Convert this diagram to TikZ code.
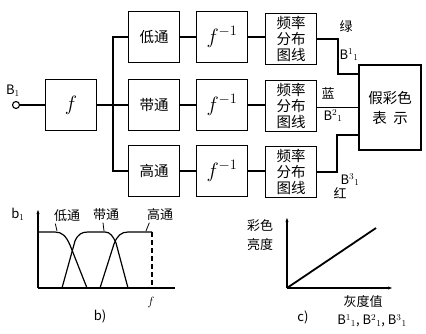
\documentclass[tikz,border=0pt]{standalone}
\usepackage{fontspec}
\newfontfamily\cjk{Noto Sans CJK SC}
\usetikzlibrary{arrows.meta}
\begin{document}
\begin{tikzpicture}[x=1pt,y=-1pt,line width=1.3pt,
  blk/.style={draw,minimum width=51pt,minimum height=51pt,inner sep=0pt,align=center,font=\cjk\fontsize{14.5}{16}\selectfont},
  lbl/.style={font=\cjk\fontsize{13}{15}\selectfont,inner sep=1pt},
  ax/.style={line width=1.1pt},
  cv/.style={line width=1.2pt}]
\useasboundingbox (0,0) rectangle (426,333);
% input
\node[circle,draw,minimum size=7pt,inner sep=0pt,line width=1.1pt] (in) at (16,105) {};
\node[lbl] (B1) at (13,91) {B$_1$};
\node[blk] (F) at (71,105) {\fontsize{22}{22}\selectfont$f$};
\draw (in) -- (F.west);
% column 1
\node[blk] (L) at (154,37) {低通};
\node[blk] (M) at (154,105) {带通};
\node[blk] (H) at (154,171) {高通};
% column 2
\node[blk] (I1) at (222,37) {\fontsize{20}{20}\selectfont$f^{-1}$};
\node[blk] (I2) at (222,105) {\fontsize{20}{20}\selectfont$f^{-1}$};
\node[blk] (I3) at (222,171) {\fontsize{20}{20}\selectfont$f^{-1}$};
% column 3
\node[blk] (Q1) at (291,39) {频率\\分布\\图线};
\node[blk] (Q2) at (291,106) {频率\\分布\\图线};
\node[blk] (Q3) at (291,172) {频率\\分布\\图线};
% output
\node[blk,minimum width=62pt,minimum height=85pt] (D) at (390,107.5) {假彩色\\[4pt]表\ \ 示};
% splitting
\coordinate (S) at (113,105);
\draw (F.east) -- (S);
\draw (S) |- (L.west);
\draw (S) -- (M.west);
\draw (S) |- (H.west);
\draw (L) -- (I1); \draw (M) -- (I2); \draw (H) -- (I3);
\draw (I1.east) -- (I1.east -| Q1.west);
\draw (I2.east) -- (I2.east -| Q2.west);
\draw (I3.east) -- (I3.east -| Q3.west);
% outputs
\coordinate (g1) at (338,74);
\coordinate (g3) at (337,135);
\draw (Q1.east) -| (g1) -- (g1 -| D.west);
\draw (Q2.east |- D.west) -- (D.west);
\draw (Q3.east) -| (g3) -- (g3 -| D.west);
\node[lbl] (lg) at (346,27) {绿};
\node[lbl] (bg) at (349,55) {B$^1{}_1$};
\node[lbl] (lb) at (328,93) {蓝};
\node[lbl] (bb) at (333,116) {B$^2{}_1$};
\node[lbl] (br) at (350,180) {B$^3{}_1$};
\node[lbl] (lr) at (340,193) {红};
% plot b
\draw[ax,-{Stealth[length=4pt,width=3pt]}] (38,288) -- (38,210);
\draw[ax] (38,288) -- (175,288);
\draw[cv] (38,232) -- (55,232) .. controls (62,232) and (66,236) .. (70,245) -- (87,288);
\draw[cv] (62,288) -- (75,241) .. controls (78,234) and (82,232) .. (88,232) -- (105,232) .. controls (110,232) and (113,236) .. (116,243) -- (128,288);
\draw[cv] (100,288) -- (114,244) .. controls (117,236) and (121,232) .. (128,232) -- (152,232);
\draw[ax,dash pattern=on 5pt off 3pt] (152,232) -- (152,288);
\node[lbl] (b1) at (18,214) {b$_1$};
\node[lbl] (tl) at (67,216) {低通};
\node[lbl] (tb) at (106,215) {带通};
\node[lbl] (th) at (160,215) {高通};
\draw[line width=0.8pt] (tl.south west) ++(3,0) -- (57,231);
\draw[line width=0.8pt] (tb.south) ++(-3,0) -- (104,231);
\draw[line width=0.8pt] (th.south west) ++(4,0) -- (146,231);
\node[lbl] (fl) at (151,302) {$f$};
\node[lbl] (bl) at (100,316) {b)};
% plot c
\draw[ax,-{Stealth[length=4pt,width=3pt]}] (287,288) -- (287,218);
\draw[ax,-{Stealth[length=4pt,width=3pt]}] (287,288) -- (392,288);
\draw[line width=1.8pt] (287,288) -- (376,228);
\node[lbl,align=center] (yl) at (260,235) {彩色\\[4pt]亮度};
\node[lbl] (xl) at (363,302) {灰度值};
\node[lbl] (cl) at (303,317) {c)};
\node[lbl] (bs) at (372,321) {B$^1{}_1$, B$^2{}_1$, B$^3{}_1$};
\end{tikzpicture}
\end{document}
